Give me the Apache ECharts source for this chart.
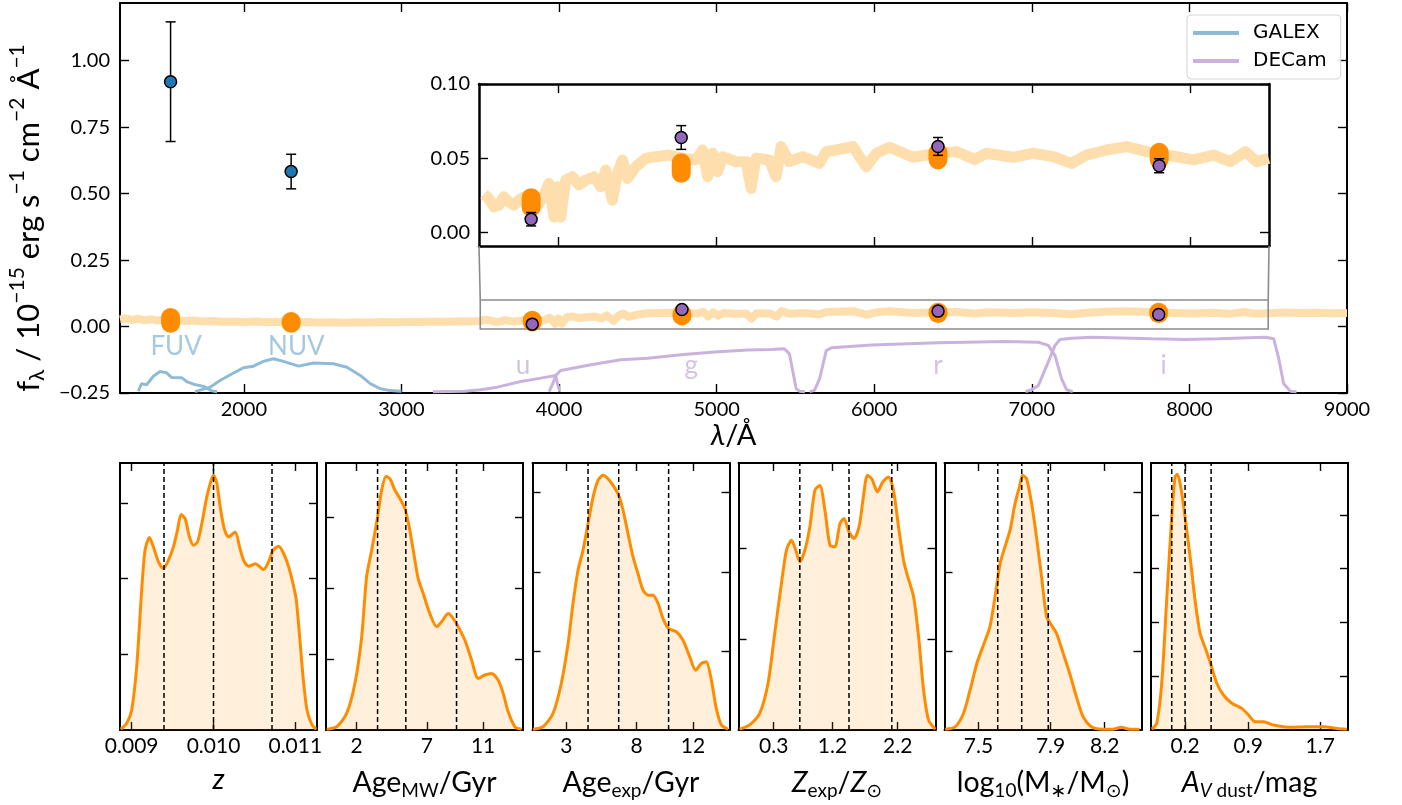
<!DOCTYPE html>
<html><head><meta charset="utf-8">
<script src="https://cdn.jsdelivr.net/npm/echarts@6/dist/echarts.min.js"></script>
<style>html,body{margin:0;padding:0;background:#fff}#c{width:1402px;height:805px}</style>
</head><body><div id="c"></div>
<script>
// ---------------- DATA ----------------
// model spectrum (Angstrom, 1e-15 erg/s/cm2/A)
const specLam = [1214,1250,1290,1330,1370,1410,1450,1490,1535,1580,1630,1680,1740,1800,1870,1940,2010,2080,2160,2240,2320,2400,2480,2560,2640,2720,2800,2880,2960,3040,3120,3200,3280,3360,3430,
3499,3531,3562,3594,3626,3657,3689,3721,3753,3784,3816,3848,3880,3912,3943,3975,3996,4017,4049,4091,4133,4175,4228,4271,4302,4344,4376,4408,4440,4492,4556,4619,4704,4788,4873,4915,4947,4978,5010,5042,5127,5190,5222,5253,5338,5380,5412,5465,5549,5655,5697,5761,5866,5951,6015,6099,6247,6405,6521,6637,6711,6880,7007,7134,7250,7345,7472,7599,7726,7853,8022,8149,8255,8350,8424,8498,8600,8700,8800,8900,9000];
const specFlux = [0.027,0.031,0.025,0.029,0.024,0.027,0.023,0.026,0.022,0.024,0.021,0.023,0.019,0.021,0.018,0.019,0.017,0.019,0.016,0.018,0.015,0.017,0.015,0.016,0.014,0.016,0.015,0.017,0.016,0.018,0.017,0.019,0.018,0.020,0.019,
0.0207,0.0259,0.0230,0.0173,0.0185,0.0241,0.0207,0.0185,0.0218,0.0241,0.0196,0.0151,0.0196,0.0252,0.0331,0.0105,0.0308,0.0105,0.0353,0.0376,0.0320,0.0353,0.0376,0.0308,0.0421,0.0218,0.0398,0.0489,0.0365,0.0443,0.0500,0.0511,0.0522,0.0500,0.0489,0.0556,0.0376,0.0534,0.0410,0.0511,0.0477,0.0477,0.0297,0.0500,0.0489,0.0376,0.0579,0.0477,0.0511,0.0466,0.0545,0.0556,0.0579,0.0443,0.0534,0.0574,0.0507,0.0534,0.0545,0.0493,0.0534,0.0507,0.0534,0.0511,0.0466,0.0522,0.0556,0.0579,0.0545,0.0522,0.0489,0.0522,0.0477,0.0545,0.0477,0.0500,0.053,0.051,0.052,0.050,0.051];

// observed photometry
const galexLam = [1535, 2300];
const galexFlux = [0.921, 0.583];
const galexErr = [0.225, 0.065];
const decamLam = [3830, 4780, 6405, 7805];
const decamFlux = [0.009, 0.064, 0.058, 0.045];
const decamErr = [0.0045, 0.008, 0.006, 0.0047];

// model photometry range (posterior)
const modelLam = [1535, 2300, 3830, 4780, 6405, 7805];
const modelLo = [0.012, 0.012, 0.017, 0.040, 0.049, 0.049];
const modelHi = [0.034, 0.019, 0.0235, 0.047, 0.054, 0.054];

// filter curves (plotted in flux-axis units)
const fuvLam = [1330,1351,1383,1426,1468,1510,1542,1606,1638,1680,1744,1797,1830];
const fuvT = [-0.243,-0.215,-0.219,-0.187,-0.169,-0.174,-0.192,-0.193,-0.207,-0.217,-0.225,-0.242,-0.245];
const nuvLam = [1690,1785,1849,1934,1997,2061,2124,2188,2251,2347,2442,2569,2654,2739,2802,2866,2930,3000];
const nuvT = [-0.245,-0.228,-0.203,-0.175,-0.155,-0.149,-0.131,-0.121,-0.131,-0.149,-0.137,-0.140,-0.153,-0.184,-0.215,-0.234,-0.241,-0.243];
const uLam = [3200,3400,3502,3608,3757,3884,3979,3990,4005];
const uT = [-0.245,-0.243,-0.238,-0.228,-0.207,-0.194,-0.184,-0.215,-0.245];
const gLam = [3937,3960,3979,4011,4202,4392,4562,4774,4986,5198,5346,5430,5462,5505,5526,5560];
const gT = [-0.245,-0.215,-0.184,-0.165,-0.144,-0.125,-0.119,-0.106,-0.096,-0.088,-0.0865,-0.084,-0.103,-0.234,-0.243,-0.245];
const rLam = [5590,5621,5653,5696,5728,5982,6406,6829,7041,7104,7147,7189,7221,7260];
const rT = [-0.245,-0.240,-0.197,-0.090,-0.080,-0.069,-0.061,-0.056,-0.059,-0.071,-0.109,-0.197,-0.238,-0.245];
const iLam = [6960,6999,7041,7104,7147,7179,7253,7380,7762,7974,8186,8482,8535,8567,8598,8641,8680];
const iT = [-0.245,-0.238,-0.222,-0.134,-0.071,-0.049,-0.044,-0.040,-0.046,-0.049,-0.046,-0.040,-0.046,-0.121,-0.215,-0.243,-0.245];

const bandNames = ['FUV','NUV','u','g','r','i'];
const bandLabelLam = [1570, 2333, 3771, 4839, 6405, 7837];
const bandLabelY = [-0.076, -0.076, -0.1455, -0.1455, -0.1455, -0.1455];

// tick labels
const mainXTicks = [2000,3000,4000,5000,6000,7000,8000,9000];
const mainYTicks = [-0.25,0,0.25,0.5,0.75,1.0];
const insetXTicks = [4000,5000,6000,7000,8000];
const insetYTicks = [0,0.05,0.1];

// posterior distributions (normalised density)
const zX = [0.008865,0.008939,0.009000,0.009061,0.009122,0.009163,0.009216,0.009265,0.009327,0.009388,0.009449,0.009510,0.009559,0.009604,0.009653,0.009706,0.009755,0.009804,0.009857,0.009918,0.009971,0.010000,0.010041,0.010082,0.010131,0.010184,0.010265,0.010318,0.010367,0.010429,0.010510,0.010612,0.010673,0.010727,0.010796,0.010857,0.010918,0.010971,0.011012,0.011053,0.011094,0.011143,0.011204,0.011257];
const zY = [0.003,0.025,0.075,0.237,0.524,0.673,0.721,0.686,0.630,0.605,0.636,0.686,0.748,0.807,0.792,0.723,0.692,0.704,0.773,0.873,0.935,0.954,0.923,0.835,0.754,0.723,0.742,0.686,0.636,0.613,0.623,0.601,0.630,0.673,0.688,0.661,0.611,0.549,0.486,0.349,0.200,0.075,0.019,0.003];
const zQ = [0.009395, 0.010000, 0.010715];
const zTicks = [0.009, 0.010, 0.011];

const ageMwX = [-0.13,0.58,1.29,1.88,2.36,2.71,3.07,3.49,3.78,4.09,4.37,4.73,5.08,5.44,5.74,6.03,6.38,6.74,7.21,7.69,8.04,8.52,8.87,9.23,9.70,10.18,10.65,11.12,11.60,12.07,12.43,12.78,13.26,13.73];
const ageMwY = [0.003,0.012,0.062,0.175,0.349,0.574,0.673,0.798,0.898,0.950,0.941,0.898,0.867,0.829,0.761,0.673,0.567,0.511,0.436,0.387,0.405,0.436,0.418,0.387,0.337,0.262,0.193,0.206,0.212,0.187,0.137,0.069,0.012,0.003];
const ageMwQ = [3.49, 5.50, 9.11];
const ageMwTicks = [2, 7, 11];

const ageExpX = [0.63,1.34,2.05,2.64,3.12,3.47,3.83,4.18,4.54,4.90,5.25,5.61,5.96,6.32,6.72,7.03,7.38,7.74,8.09,8.45,8.81,9.16,9.52,9.87,10.27,10.82,11.29,11.77,12.19,12.60,12.95,13.31,13.66,14.02,14.49];
const ageExpY = [0.003,0.012,0.062,0.175,0.324,0.474,0.599,0.673,0.773,0.873,0.935,0.954,0.941,0.916,0.879,0.823,0.736,0.648,0.586,0.524,0.505,0.505,0.474,0.418,0.380,0.368,0.337,0.274,0.224,0.249,0.256,0.187,0.081,0.019,0.003];
const ageExpQ = [4.54, 6.72, 10.27];
const ageExpTicks = [3, 8, 12];

const zExpX = [-0.223,-0.069,0.085,0.213,0.315,0.418,0.495,0.572,0.638,0.700,0.777,0.854,0.931,1.008,1.085,1.162,1.238,1.315,1.377,1.454,1.531,1.613,1.674,1.736,1.803,1.890,1.972,2.059,2.136,2.213,2.290,2.341,2.444,2.521,2.597,2.674,2.777];
const zExpY = [0.003,0.019,0.062,0.175,0.362,0.549,0.673,0.711,0.673,0.630,0.673,0.761,0.898,0.916,0.823,0.692,0.686,0.773,0.792,0.742,0.717,0.767,0.873,0.954,0.941,0.892,0.929,0.948,0.898,0.761,0.636,0.586,0.499,0.349,0.150,0.037,0.003];
const zExpQ = [0.70, 1.454, 2.11];
const zExpTicks = [0.3, 1.2, 2.2];

const massX = [7.316,7.371,7.417,7.454,7.491,7.528,7.564,7.592,7.620,7.647,7.675,7.703,7.727,7.745,7.767,7.795,7.822,7.850,7.878,7.905,7.933,7.970,8.006,8.043,8.080,8.126,8.191,8.246,8.292,8.338,8.393];
const massY = [0.003,0.012,0.062,0.150,0.249,0.318,0.387,0.499,0.623,0.686,0.748,0.848,0.910,0.954,0.941,0.848,0.723,0.574,0.424,0.393,0.362,0.287,0.212,0.125,0.050,0.012,0.003,0.003,0.010,0.003,0.003];
const massQ = [7.607, 7.740, 7.887];
const massTicks = [7.5, 7.9, 8.2];

const avX = [-0.170,-0.115,-0.059,-0.004,0.052,0.089,0.115,0.152,0.200,0.256,0.311,0.367,0.433,0.489,0.552,0.626,0.719,0.830,0.904,0.978,1.070,1.181,1.367,1.552,1.737,1.885,1.996];
const avY = [0.003,0.025,0.175,0.486,0.798,0.948,0.958,0.910,0.798,0.648,0.486,0.362,0.299,0.243,0.175,0.131,0.100,0.081,0.056,0.031,0.031,0.019,0.010,0.012,0.012,0.006,0.003];
const avQ = [0.052, 0.200, 0.489];
const avTicks = [0.2, 0.9, 1.7];

// ---------------- STYLE / LAYOUT ----------------
const FONT = 'Lato, "DejaVu Sans", sans-serif';
const GALEX_C = '#8fbbd9';
const DECAM_C = '#c9b3de';
const SPEC_C = '#ffdead';
const ORANGE = '#ff8c00';

function richSet(fs, ss) {
  return {
    n: {fontSize: fs, fontFamily: FONT, color: '#000'},
    it: {fontSize: fs, fontFamily: FONT, fontStyle: 'italic', color: '#000'},
    sub: {fontSize: ss, fontFamily: FONT, color: '#000', padding: [Math.round(fs * 0.55), 0, 0, 0]},
    subit: {fontSize: ss, fontFamily: FONT, fontStyle: 'italic', color: '#000', padding: [Math.round(fs * 0.55), 0, 0, 0]},
    sup: {fontSize: ss, fontFamily: FONT, color: '#000', padding: [0, 0, Math.round(fs * 0.7), 0]}
  };
}

const grids = [], xAxes = [], yAxes = [], series = [];
const minusFmt = d => v => (v < 0 ? '\u2212' : '') + Math.abs(v).toFixed(d);

function addGrid(g, o) {
  const gi = grids.length;
  grids.push(Object.assign({outerBoundsMode: 'none', containLabel: false}, g));
  const lw = o.lw || 2, tl = o.tl || 8;
  const mk = (pos, isX, label) => {
    const ticks = isX ? o.xt : o.yt;
    const fmt = isX ? o.xf : o.yf;
    const fs = isX ? (o.xfs || 28) : (o.yfs || 28);
    return {
      type: 'value', gridIndex: gi, position: pos,
      min: isX ? o.xmin : o.ymin, max: isX ? o.xmax : o.ymax,
      axisLine: {show: true, onZero: false, lineStyle: {color: '#000', width: lw}},
      axisTick: {show: true, inside: true, length: tl, lineStyle: {color: '#000', width: 1.4}, customValues: ticks},
      axisLabel: {show: !!(label && fmt), customValues: ticks, formatter: fmt, fontSize: o.tfs || 20, fontFamily: FONT, color: '#000',
                  margin: isX ? (o.xm || 7) : (o.ym || 10)},
      splitLine: {show: false},
      name: label ? (isX ? o.xn : o.yn) : '', nameLocation: 'middle',
      nameGap: isX ? o.xg : o.yg,
      nameTextStyle: {rich: richSet(fs, Math.round(fs * 0.68)), fontSize: fs, fontFamily: FONT, color: '#000',
                      padding: isX ? 0 : (o.ypad || 0)}
    };
  };
  xAxes.push(mk('bottom', true, true), mk('top', true, false));
  yAxes.push(mk('left', false, true), mk('right', false, false));
  return 2 * gi;
}

// main grid
const mA = addGrid({left: 120, top: 3, width: 1227, height: 390}, {
  xmin: 1214, xmax: 9000, xt: mainXTicks, xf: v => String(v), xn: '{it|λ}{n|/Å}', xg: 27, xm: 7, xfs: 29,
  ymin: -0.25, ymax: 1.217, yt: mainYTicks, yf: minusFmt(2), yfs: 31, ypad: [0, 40, 0, 0],
  yn: '{n|f}{sub|λ}{n| / 10}{sup|−15}{n| erg s}{sup|−1}{n| cm}{sup|−2}{n| Å}{sup|−1}', yg: 70, ym: 10, tl: 9
});
// inset grid
const iA = addGrid({left: 479, top: 84, width: 790, height: 162, show: true, backgroundColor: '#fff', borderWidth: 0}, {
  xmin: 3500, xmax: 8500, xt: insetXTicks, xf: null, xn: '', xg: 0,
  ymin: -0.009, ymax: 0.10, yt: insetYTicks, yf: minusFmt(2), yn: '', yg: 0, ym: 9, lw: 2.5, tl: 9
});

// bottom panels
const panelLefts = [120, 326, 532.5, 738.5, 944.5, 1151];
const panels = [
  {x: zX, y: zY, q: zQ, t: zTicks, min: 0.008857, max: 0.011265, f: v => v.toFixed(3), yt: [0.2835, 0.567, 0.8505], n: '{it|z}'},
  {x: ageMwX, y: ageMwY, q: ageMwQ, t: ageMwTicks, min: -0.18, max: 13.84, f: v => String(v), yt: [0.266, 0.532, 0.798], n: '{n|Age}{sub|MW}{n|/Gyr}'},
  {x: ageExpX, y: ageExpY, q: ageExpQ, t: ageExpTicks, min: 0.59, max: 14.6, f: v => String(v), yt: [0.296, 0.592, 0.892], n: '{n|Age}{sub|exp}{n|/Gyr}'},
  {x: zExpX, y: zExpY, q: zExpQ, t: zExpTicks, min: -0.24, max: 2.78, f: v => v.toFixed(1), yt: [0.34, 0.68], n: '{it|Z}{sub|exp}{n|/}{it|Z}{sub|⊙}'},
  {x: massX, y: massY, q: massQ, t: massTicks, min: 7.312, max: 8.404, f: v => v.toFixed(1), yt: [0.296, 0.592, 0.892], n: '{n|log}{sub|10}{n|(M}{sub|∗}{n|/M}{sub|⊙}{n|)}'},
  {x: avX, y: avY, q: avQ, t: avTicks, min: -0.178, max: 2.008, f: v => v.toFixed(1), yt: [0.2016, 0.403, 0.605, 0.806], n: '{it|A}{subit|V}{sub| dust}{n|/mag}'}
];
panels.forEach((p, k) => {
  const a = addGrid({left: panelLefts[k], top: 463, width: 197, height: 267}, {
    xmin: p.min, xmax: p.max, xt: p.t, xf: p.f, xn: p.n, xg: 35, xm: 6, xfs: 28.5, tfs: 21,
    ymin: 0, ymax: 1, yt: p.yt, yf: null, yn: '', yg: 0, tl: 8
  });
  series.push({
    type: 'line', xAxisIndex: a, yAxisIndex: a, showSymbol: false, smooth: 0.25, silent: true,
    data: p.x.map((v, i) => [v, p.y[i]]),
    lineStyle: {color: ORANGE, width: 3}, itemStyle: {color: ORANGE},
    areaStyle: {color: 'rgba(255,140,0,0.2)', origin: 'start'},
    z: 2
  });
  // percentile lines
  series.push({
    type: 'custom', xAxisIndex: a, yAxisIndex: a, silent: true, z: 3, clip: true,
    data: p.q.map(v => [v]), encode: {x: 0},
    renderItem: (params, api) => {
      const v = api.value(0);
      const b = api.coord([v, 0]), t = api.coord([v, 1]);
      return {type: 'line', shape: {x1: b[0], y1: b[1], x2: t[0], y2: t[1]},
        style: {stroke: '#000', lineWidth: 1.5, lineDash: [5, 3]}};
    }
  });
});

// ---------------- SED series ----------------
const inInset = l => l >= 3500 && l <= 8500;
const specData = specLam.map((l, i) => [l, specFlux[i]]);
function specSeries(ax, w, data) {
  return {type: 'line', xAxisIndex: ax, yAxisIndex: ax, data: data, showSymbol: false, clip: true,
    lineStyle: {color: SPEC_C, width: w, join: 'round', cap: 'butt'}, itemStyle: {color: SPEC_C}, z: 1, silent: true};
}
series.push(specSeries(mA, 8, specData), specSeries(iA, 11, specData.filter(d => inInset(d[0]))));

// indicator rectangle in main panel
series.push({
  type: 'custom', xAxisIndex: mA, yAxisIndex: mA, z: 2, silent: true,
  data: [[3500, -0.009, 8500, 0.10]],
  renderItem: (params, api) => {
    const p1 = api.coord([api.value(0), api.value(3)]);
    const p2 = api.coord([api.value(2), api.value(1)]);
    return {type: 'rect', shape: {x: p1[0], y: p1[1], width: p2[0] - p1[0], height: p2[1] - p1[1]},
      style: {fill: 'none', stroke: '#8c8c8c', lineWidth: 1.6}};
  }
});

function capsuleSeries(ax, keep) {
  const d = modelLam.map((l, i) => [l, modelLo[i], modelHi[i]]).filter(r => keep(r[0]));
  return {type: 'custom', xAxisIndex: ax, yAxisIndex: ax, z: 3, silent: true, clip: true,
    data: d, encode: {x: 0, y: [1, 2]},
    renderItem: (params, api) => {
      const x = api.value(0);
      const t = api.coord([x, api.value(2)]), b = api.coord([x, api.value(1)]);
      const w = 19;
      return {type: 'rect', shape: {x: t[0] - w / 2, y: t[1] - w / 2, width: w, height: b[1] - t[1] + w, r: w / 2},
        style: {fill: ORANGE}};
    }};
}
function errSeries(ax, lam, flux, err, keep) {
  return {type: 'custom', xAxisIndex: ax, yAxisIndex: ax, z: 4, silent: true, clip: true,
    data: lam.map((l, i) => [l, flux[i], err[i]]).filter(r => keep(r[0])),
    encode: {x: 0, y: 1},
    renderItem: (params, api) => {
      const x = api.value(0), y = api.value(1), e = api.value(2);
      const t = api.coord([x, y + e]), b = api.coord([x, y - e]);
      const c = 5, st = {stroke: '#000', lineWidth: 1.5};
      return {type: 'group', children: [
        {type: 'line', shape: {x1: t[0], y1: t[1], x2: b[0], y2: b[1]}, style: st},
        {type: 'line', shape: {x1: t[0] - c, y1: t[1], x2: t[0] + c, y2: t[1]}, style: st},
        {type: 'line', shape: {x1: b[0] - c, y1: b[1], x2: b[0] + c, y2: b[1]}, style: st}
      ]};
    }};
}
function ptSeries(ax, lam, flux, color, keep) {
  return {type: 'scatter', xAxisIndex: ax, yAxisIndex: ax, z: 5, silent: true, symbolSize: 12, clip: true,
    data: lam.map((l, i) => [l, flux[i]]).filter(r => keep(r[0])),
    itemStyle: {color: color, borderColor: '#000', borderWidth: 1.5, opacity: 1}};
}
[[mA, () => true], [iA, inInset]].forEach(([ax, keep]) => {
  series.push(capsuleSeries(ax, keep));
  series.push(errSeries(ax, galexLam, galexFlux, galexErr, keep));
  series.push(errSeries(ax, decamLam, decamFlux, decamErr, keep));
  series.push(ptSeries(ax, galexLam, galexFlux, '#1f77b4', keep));
  series.push(ptSeries(ax, decamLam, decamFlux, '#9467bd', keep));
});

// filter curves
function filt(name, lam, t, color) {
  return {type: 'line', name: name, xAxisIndex: mA, yAxisIndex: mA, showSymbol: false, silent: true,
    data: lam.map((l, i) => [l, t[i]]), lineStyle: {color: color, width: 3}, itemStyle: {color: color}, z: 2};
}
series.push(filt('GALEX', fuvLam, fuvT, GALEX_C), filt('GALEX', nuvLam, nuvT, GALEX_C),
  filt('DECam', uLam, uT, DECAM_C), filt('DECam', gLam, gT, DECAM_C),
  filt('DECam', rLam, rT, DECAM_C), filt('DECam', iLam, iT, DECAM_C));

// band labels
series.push({
  type: 'scatter', xAxisIndex: mA, yAxisIndex: mA, symbolSize: 1, silent: true, z: 3,
  itemStyle: {color: 'rgba(0,0,0,0)'},
  data: bandNames.map((n, i) => ({name: n, value: [bandLabelLam[i], bandLabelY[i]],
    label: {color: i < 2 ? GALEX_C : DECAM_C}})),
  label: {show: true, position: 'inside', formatter: p => p.name, fontSize: 26, fontFamily: FONT,
    align: 'center', verticalAlign: 'middle'}
});

const option = {
  animation: false,
  backgroundColor: '#fff',
  grid: grids, xAxis: xAxes, yAxis: yAxes, series: series,
  legend: {
    data: ['GALEX', 'DECam'], orient: 'vertical', left: 1187, top: 15,
    padding: [8, 14, 8, 6], itemGap: 8, itemWidth: 46, itemHeight: 4, icon: 'rect',
    textStyle: {fontSize: 20, fontFamily: '"DejaVu Sans", sans-serif', color: '#000', padding: [0, 0, 0, 9]},
    borderColor: '#d4d4d4', borderWidth: 1, borderRadius: 4, backgroundColor: 'rgba(255,255,255,0.85)',
    selectedMode: false
  }
};

const chart = echarts.init(document.getElementById('c'), null, {renderer: 'canvas', width: 1402, height: 805});
chart.setOption(option);

// connector lines between inset and indicator rectangle
const ib1 = chart.convertToPixel({xAxisIndex: iA, yAxisIndex: iA}, [3500, -0.009]);
const ib2 = chart.convertToPixel({xAxisIndex: iA, yAxisIndex: iA}, [8500, -0.009]);
const mt1 = chart.convertToPixel({xAxisIndex: mA, yAxisIndex: mA}, [3500, 0.10]);
const mt2 = chart.convertToPixel({xAxisIndex: mA, yAxisIndex: mA}, [8500, 0.10]);
chart.setOption({graphic: [
  {type: 'line', shape: {x1: ib1[0], y1: ib1[1], x2: mt1[0], y2: mt1[1]}, style: {stroke: '#8c8c8c', lineWidth: 1.6}, z: 10},
  {type: 'line', shape: {x1: ib2[0], y1: ib2[1], x2: mt2[0], y2: mt2[1]}, style: {stroke: '#8c8c8c', lineWidth: 1.6}, z: 10}
]});
</script>
</body></html>
